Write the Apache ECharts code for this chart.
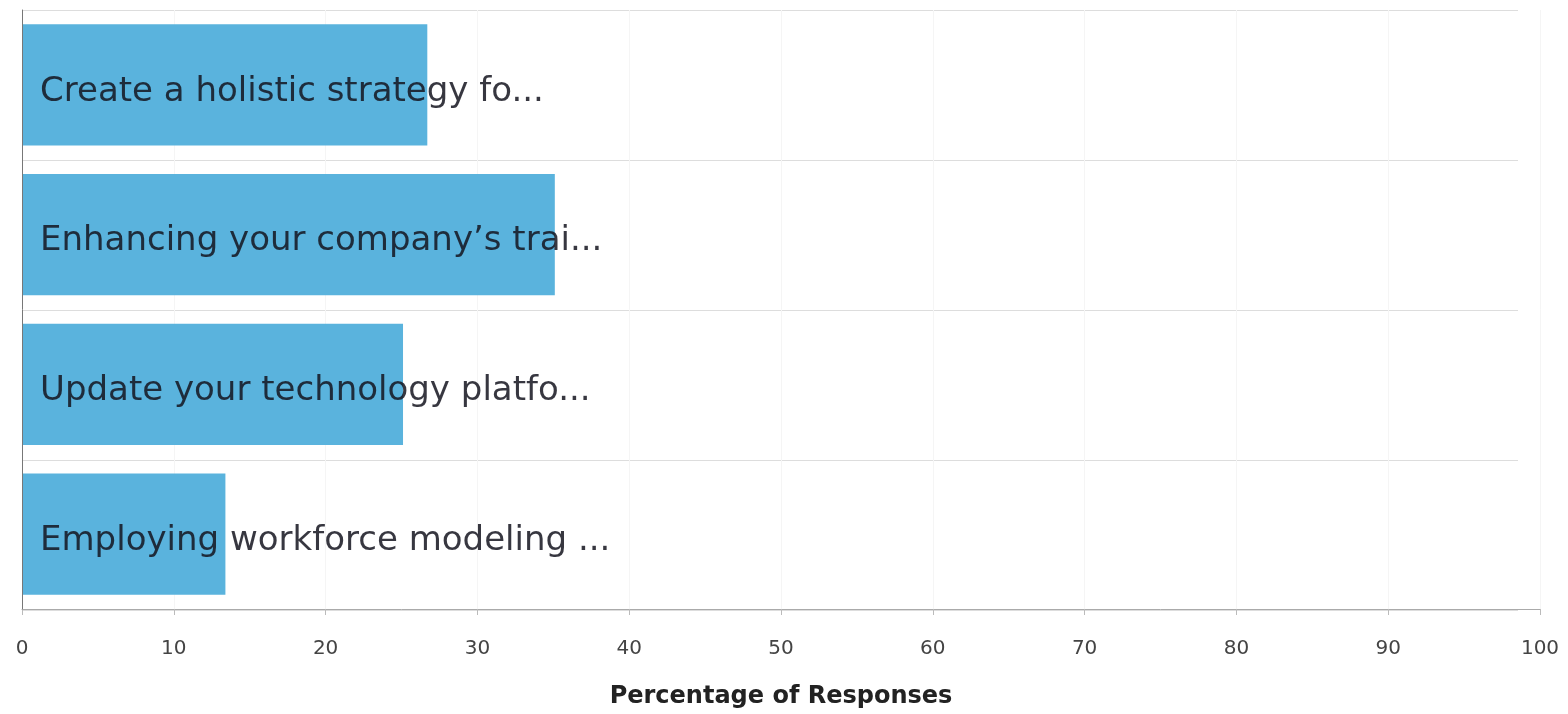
<!DOCTYPE html>
<html>
<head>
<meta charset="utf-8">
<script src="https://cdn.jsdelivr.net/npm/echarts@6/dist/echarts.min.js"></script>
<style>
  html, body { margin: 0; padding: 0; background: #ffffff; }
  #chart { width: 1568px; height: 714px; }
</style>
</head>
<body>
<div id="chart"></div>
<script>
// Survey answers, top to bottom
const categories = [
  'Create a holistic strategy fo...',
  'Enhancing your company\u2019s trai...',
  'Update your technology platfo...',
  'Employing workforce modeling ...'
];
// Share of respondents choosing each answer (%)
const percentages = [26.7, 35.1, 25.1, 13.4];
const xTicks = { min: 0, max: 100, step: 10 };
const xTitle = 'Percentage of Responses';

const chart = echarts.init(document.getElementById('chart'), null, { renderer: 'canvas' });

const font = '"DejaVu Sans", Verdana, sans-serif';

chart.setOption({
  animation: false,
  backgroundColor: '#ffffff',
  grid: [
    { left: 22, right: 28, top: 10, bottom: 104, containLabel: false },
    // row separators stop a little short of the value axis end
    { left: 22, right: 50, top: 10, bottom: 104, containLabel: false }
  ],
  xAxis: [
    {
      type: 'value',
      gridIndex: 0,
      min: xTicks.min,
      max: xTicks.max,
      interval: xTicks.step,
      name: xTitle,
      nameLocation: 'middle',
      nameGap: 76,
      nameTextStyle: { fontFamily: font, fontSize: 24, fontWeight: 'bold', color: '#222' },
      axisLine: { show: true, lineStyle: { color: '#aaaaaa', width: 1 } },
      axisTick: { show: true, length: 6, lineStyle: { color: '#bbbbbb' } },
      axisLabel: { fontFamily: font, fontSize: 20, color: '#444', margin: 30 },
      splitLine: { show: true, lineStyle: { color: '#f5f5f5', width: 1 } }
    },
    {
      type: 'value',
      gridIndex: 1,
      min: xTicks.min,
      max: xTicks.max,
      show: false
    }
  ],
  yAxis: [
    {
      type: 'category',
      gridIndex: 0,
      data: categories,
      inverse: true,
      z: 10,
      axisLine: { show: true, lineStyle: { color: '#777777', width: 1 } },
      axisTick: { show: false },
      splitLine: { show: false },
      axisLabel: {
        inside: true,
        margin: 18,
        formatter: (v) => '{t|' + v + '}',
        rich: {
          t: {
            fontFamily: font,
            fontSize: 34,
            color: 'rgba(20,20,30,0.85)',
            padding: [14, 0, 0, 0]
          }
        }
      }
    },
    {
      type: 'category',
      gridIndex: 1,
      data: categories,
      inverse: true,
      axisLine: { show: false },
      axisTick: { show: false },
      axisLabel: { show: false },
      splitLine: { show: true, lineStyle: { color: '#dddddd', width: 1 } }
    }
  ],
  series: [
    {
      type: 'bar',
      xAxisIndex: 0,
      yAxisIndex: 0,
      data: percentages,
      barCategoryGap: '19%',
      itemStyle: { color: '#5ab3dd' },
      silent: true
    }
  ]
});
</script>
</body>
</html>
